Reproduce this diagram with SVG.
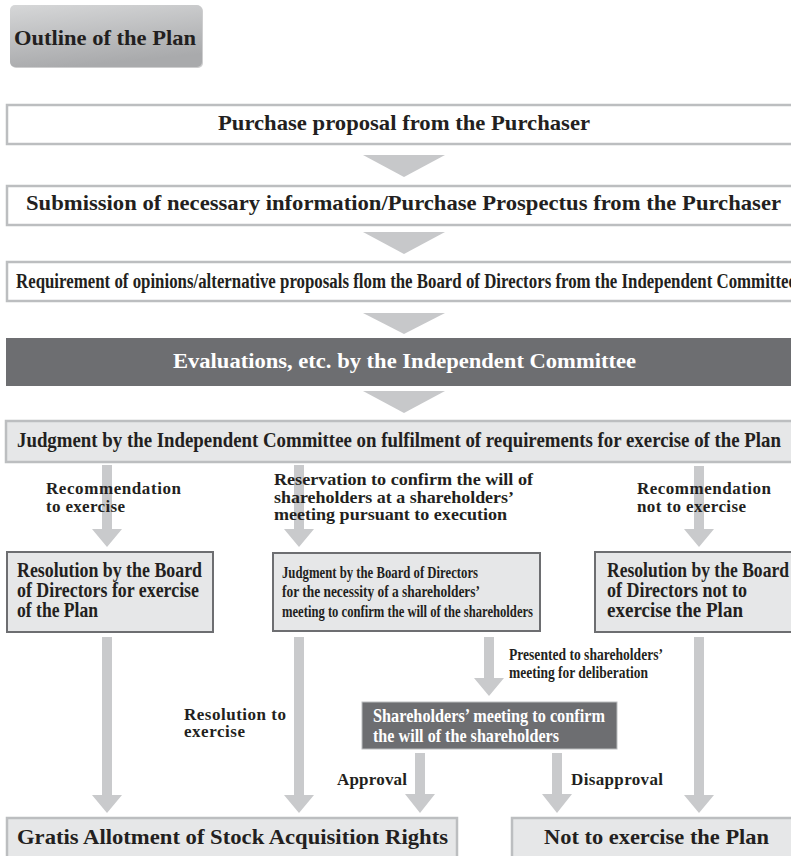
<svg xmlns="http://www.w3.org/2000/svg" width="791" height="856" viewBox="0 0 791 856">
<defs>
<linearGradient id="gOutline" x1="0" y1="0" x2="0.3" y2="1">
<stop offset="0" stop-color="#d6d7d8"/>
<stop offset="1" stop-color="#a9aaac"/>
</linearGradient>
<style>
.t{font-family:"Liberation Serif","Times New Roman",serif;font-weight:bold;fill:#231f20}
.w{fill:#ffffff}
.lite{fill:#ffffff;stroke:#bcbec0;stroke-width:2.5}
.grey{fill:#e6e7e8;stroke:#bcbec0;stroke-width:2.5}
.dkb{fill:#e6e7e8;stroke:#6d6e71;stroke-width:2}
.dark{fill:#6d6e71}
.tri{fill:#c7c8ca}
.arr{fill:#c9cacc}
</style>
</defs>
<rect width="791" height="856" fill="#ffffff"/>

<g id="outline">
<rect x="11" y="6" width="192" height="62" rx="5" fill="#9d9ea0" opacity="0.5"/>
<rect x="10" y="5" width="192" height="62" rx="5" fill="url(#gOutline)"/>
<text class="t" x="14" y="45" font-size="22" textLength="182" lengthAdjust="spacingAndGlyphs">Outline of the Plan</text>
</g>

<g id="proposal">
<rect class="lite" x="7" y="105" width="800" height="39"/>
<text class="t" x="218" y="130" font-size="21" textLength="372" lengthAdjust="spacingAndGlyphs">Purchase proposal from the Purchaser</text>
</g>

<g id="submission">
<rect class="lite" x="7" y="186" width="800" height="39"/>
<text class="t" x="26" y="210" font-size="21" textLength="755" lengthAdjust="spacingAndGlyphs">Submission of necessary information/Purchase Prospectus from the Purchaser</text>
</g>

<g id="requirement">
<rect class="lite" x="7" y="262" width="800" height="39"/>
<text class="t" x="16" y="288" font-size="20.5" textLength="780" lengthAdjust="spacingAndGlyphs">Requirement of opinions/alternative proposals flom the Board of Directors from the Independent Committee</text>
</g>

<g id="evaluations">
<rect class="dark" x="6" y="338" width="800" height="48"/>
<text class="t w" x="173" y="368" font-size="22" textLength="463" lengthAdjust="spacingAndGlyphs">Evaluations, etc. by the Independent Committee</text>
</g>

<g id="judgment">
<rect class="grey" x="6" y="421" width="800" height="41"/>
<text class="t" x="17" y="447" font-size="21.5" textLength="764" lengthAdjust="spacingAndGlyphs">Judgment by the Independent Committee on fulfilment of requirements for exercise of the Plan</text>
</g>

<g id="connectors">
<polygon class="tri" points="363,155 445,155 404,177"/>
<polygon class="tri" points="363,232 445,232 404,254"/>
<polygon class="tri" points="363,313 445,313 404,334"/>
<polygon class="tri" points="363,391 445,391 404,413"/>
<polygon class="arr" points="102,465 112,465 112,529 122,529 107,547 92,529 102,529"/>
<polygon class="arr" points="294,465 304,465 304,529 314,529 299,547 284,529 294,529"/>
<polygon class="arr" points="694,466 704,466 704,529 714,529 699,547 684,529 694,529"/>
<polygon class="arr" points="102,637 112,637 112,795 122,795 107,813 92,795 102,795"/>
<polygon class="arr" points="294,637 304,637 304,795 314,795 299,813 284,795 294,795"/>
<polygon class="arr" points="484,637 494,637 494,678 504,678 489,696 474,678 484,678"/>
<polygon class="arr" points="415,753 425,753 425,794 435,794 420,813 405,794 415,794"/>
<polygon class="arr" points="552,753 562,753 562,794 572,794 557,813 542,794 552,794"/>
<polygon class="arr" points="694,637 704,637 704,795 714,795 699,813 684,795 694,795"/>
</g>

<g id="label-recommend">
<text class="t" x="46" y="494" font-size="17" textLength="135" lengthAdjust="spacing">Recommendation</text>
<text class="t" x="46" y="512" font-size="17" textLength="79" lengthAdjust="spacing">to exercise</text>
</g>

<g id="label-reservation">
<text class="t" x="274" y="485" font-size="17" textLength="259" lengthAdjust="spacingAndGlyphs">Reservation to confirm the will of</text>
<text class="t" x="274" y="503" font-size="17" textLength="240" lengthAdjust="spacingAndGlyphs">shareholders at a shareholders’</text>
<text class="t" x="274" y="520" font-size="17" textLength="233" lengthAdjust="spacingAndGlyphs">meeting pursuant to execution</text>
</g>

<g id="label-notrecommend">
<text class="t" x="637" y="494" font-size="17" textLength="134" lengthAdjust="spacing">Recommendation</text>
<text class="t" x="637" y="512" font-size="17" textLength="109" lengthAdjust="spacing">not to exercise</text>
</g>

<g id="board-exercise">
<rect class="dkb" x="7" y="552" width="206" height="80"/>
<text class="t" x="17" y="577" font-size="21" textLength="185" lengthAdjust="spacingAndGlyphs">Resolution by the Board</text>
<text class="t" x="17" y="597" font-size="21" textLength="182" lengthAdjust="spacingAndGlyphs">of Directors for exercise</text>
<text class="t" x="17" y="617" font-size="21" textLength="81" lengthAdjust="spacingAndGlyphs">of the Plan</text>
</g>

<g id="board-judgment">
<rect class="dkb" x="273" y="553" width="267" height="78"/>
<text class="t" x="282" y="578" font-size="17" textLength="196" lengthAdjust="spacingAndGlyphs">Judgment by the Board of Directors</text>
<text class="t" x="282" y="597" font-size="17" textLength="198" lengthAdjust="spacingAndGlyphs">for the necessity of a shareholders’</text>
<text class="t" x="282" y="617" font-size="17" textLength="251" lengthAdjust="spacingAndGlyphs">meeting to confirm the will of the shareholders</text>
</g>

<g id="board-notexercise">
<rect class="dkb" x="595" y="552" width="210" height="80"/>
<text class="t" x="607" y="577" font-size="21" textLength="182" lengthAdjust="spacingAndGlyphs">Resolution by the Board</text>
<text class="t" x="607" y="597" font-size="21" textLength="140" lengthAdjust="spacingAndGlyphs">of Directors not to</text>
<text class="t" x="607" y="617" font-size="21" textLength="136" lengthAdjust="spacingAndGlyphs">exercise the Plan</text>
</g>

<g id="label-resolution">
<text class="t" x="184" y="720" font-size="17" textLength="102" lengthAdjust="spacing">Resolution to</text>
<text class="t" x="184" y="737" font-size="17" textLength="61" lengthAdjust="spacing">exercise</text>
</g>

<g id="label-presented">
<text class="t" x="509" y="660" font-size="16" textLength="154" lengthAdjust="spacingAndGlyphs">Presented to shareholders’</text>
<text class="t" x="509" y="678" font-size="16" textLength="139" lengthAdjust="spacingAndGlyphs">meeting for deliberation</text>
</g>

<g id="shareholders-meeting">
<rect class="dark" x="362" y="702" width="255" height="47" stroke="#bcbec0" stroke-width="1"/>
<text class="t w" x="373" y="722" font-size="19" textLength="232" lengthAdjust="spacingAndGlyphs">Shareholders’ meeting to confirm</text>
<text class="t w" x="373" y="742" font-size="19" textLength="186" lengthAdjust="spacingAndGlyphs">the will of the shareholders</text>
</g>

<g id="label-approval">
<text class="t" x="337" y="785" font-size="17" textLength="70" lengthAdjust="spacing">Approval</text>
</g>
<g id="label-disapproval">
<text class="t" x="571" y="785" font-size="17" textLength="92" lengthAdjust="spacing">Disapproval</text>
</g>

<g id="gratis">
<rect class="grey" x="7" y="818" width="450" height="60"/>
<text class="t" x="17" y="844" font-size="22" textLength="431" lengthAdjust="spacingAndGlyphs">Gratis Allotment of Stock Acquisition Rights</text>
</g>

<g id="not-exercise">
<rect class="grey" x="512" y="818" width="300" height="60"/>
<text class="t" x="544" y="844" font-size="22" textLength="225" lengthAdjust="spacingAndGlyphs">Not to exercise the Plan</text>
</g>
</svg>
